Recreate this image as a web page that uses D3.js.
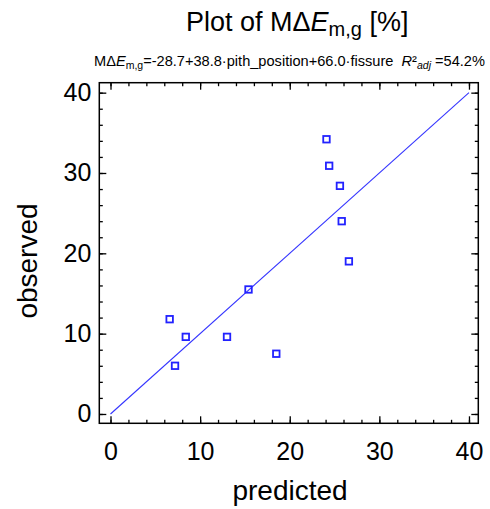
<!DOCTYPE html>
<html>
<head>
<meta charset="utf-8">
<script src="https://cdn.jsdelivr.net/npm/d3@7"></script>
<style>
  body { margin: 0; background: #fff; }
  svg { font-family: "Liberation Sans", Arial, sans-serif; }
  .frame { fill: none; stroke: #000; stroke-width: 1.5; }
  .axis path { display: none; }
  .axis line { stroke: #000; stroke-width: 1.3; }
  .labels text { font-size: 25px; fill: #000; }
</style>
</head>
<body>
<script>
const width = 490,
  height = 509;

// data
const predicted = [24.1, 24.4, 25.6, 25.8, 26.6, 15.4, 6.6, 8.4, 13.0, 18.5, 7.2];
const observed = [34.2, 30.9, 28.4, 24.0, 19.0, 15.5, 11.8, 9.6, 9.6, 7.5, 6.0];
const fitLine = [0, 40];
const majorTicks = [0, 10, 20, 30, 40];
const minorTicks = d3.range(0, 41, 2);

const x = d3.scaleLinear().domain([-1.25, 41.04]).range([99.3, 478.3]);
const y = d3.scaleLinear().domain([-1.16, 41.24]).range([423.3, 82.7]);

const svg = d3
  .select("body")
  .append("svg")
  .attr("width", width)
  .attr("height", height);

// Inward ticks on all four sides
function ticks(axisFn, transform, size, values) {
  svg
    .append("g")
    .attr("class", "axis")
    .attr("transform", transform)
    .call(axisFn.tickValues(values).tickSize(size).tickFormat(""));
}
const [x0, x1] = x.range();
const [y0, y1] = y.range();
ticks(d3.axisBottom(x), `translate(0,${y0})`, -7, majorTicks);
ticks(d3.axisBottom(x), `translate(0,${y0})`, -3.5, minorTicks);
ticks(d3.axisTop(x), `translate(0,${y1})`, -7, majorTicks);
ticks(d3.axisTop(x), `translate(0,${y1})`, -3.5, minorTicks);
ticks(d3.axisLeft(y), `translate(${x0},0)`, -7, majorTicks);
ticks(d3.axisLeft(y), `translate(${x0},0)`, -3.5, minorTicks);
ticks(d3.axisRight(y), `translate(${x1},0)`, -7, majorTicks);
ticks(d3.axisRight(y), `translate(${x1},0)`, -3.5, minorTicks);

// Tick labels
svg
  .append("g")
  .attr("class", "axis labels")
  .attr("transform", `translate(0,${y0})`)
  .call(d3.axisBottom(x).tickValues(majorTicks).tickSize(0).tickPadding(19))
  .call((g) => g.selectAll("text").attr("font-family", null).attr("font-size", null));
svg
  .append("g")
  .attr("class", "axis labels")
  .attr("transform", `translate(${x0},0)`)
  .call(d3.axisLeft(y).tickValues(majorTicks).tickSize(0).tickPadding(8))
  .call((g) => g.selectAll("text").attr("font-family", null).attr("font-size", null));

// Frame
svg
  .append("rect")
  .attr("class", "frame")
  .attr("x", x0)
  .attr("y", y1)
  .attr("width", x1 - x0)
  .attr("height", y0 - y1);

// Fit line
svg
  .append("line")
  .attr("x1", x(fitLine[0]))
  .attr("y1", y(fitLine[0]))
  .attr("x2", x(fitLine[1]))
  .attr("y2", y(fitLine[1]))
  .attr("stroke", "#3535ff")
  .attr("stroke-width", 1.1);

// Points
const s = 6.5;
svg
  .selectAll("rect.pt")
  .data(predicted)
  .enter()
  .append("rect")
  .attr("class", "pt")
  .attr("x", (d) => x(d) - s / 2)
  .attr("y", (d, i) => y(observed[i]) - s / 2)
  .attr("width", s)
  .attr("height", s)
  .attr("fill", "none")
  .attr("stroke", "#2222ff")
  .attr("stroke-width", 1.8);

// Axis titles
svg
  .append("text")
  .attr("x", 290)
  .attr("y", 500)
  .attr("text-anchor", "middle")
  .attr("font-size", 28)
  .text("predicted");
svg
  .append("text")
  .attr("transform", "translate(37,261) rotate(-90)")
  .attr("text-anchor", "middle")
  .attr("font-size", 28)
  .text("observed");

// Title
const title = svg
  .append("text")
  .attr("x", 186)
  .attr("y", 31)
  .attr("font-size", 27);
title.append("tspan").text("Plot of M\u0394");
title.append("tspan").attr("font-style", "italic").text("E");
title.append("tspan").attr("font-size", 20).attr("dy", 5).text("m,g");
title.append("tspan").attr("dy", -5).text(" [%]");

// Subtitle with model equation
const sub = svg
  .append("text")
  .attr("x", 94)
  .attr("y", 66)
  .attr("font-size", 14.6);
sub.append("tspan").text("M\u0394");
sub.append("tspan").attr("font-style", "italic").text("E");
sub.append("tspan").attr("font-size", 10.5).attr("dy", 3).text("m,g");
sub
  .append("tspan")
  .attr("dy", -3)
  .text("=-28.7+38.8\u00b7pith_position+66.0\u00b7fissure\u00a0\u00a0");
sub.append("tspan").attr("font-style", "italic").text("R");
sub.append("tspan").text("\u00b2");
sub
  .append("tspan")
  .attr("font-style", "italic")
  .attr("font-size", 10.5)
  .attr("dy", 3)
  .text("adj");
sub.append("tspan").attr("dy", -3).text(" =54.2%");
</script>
</body>
</html>
